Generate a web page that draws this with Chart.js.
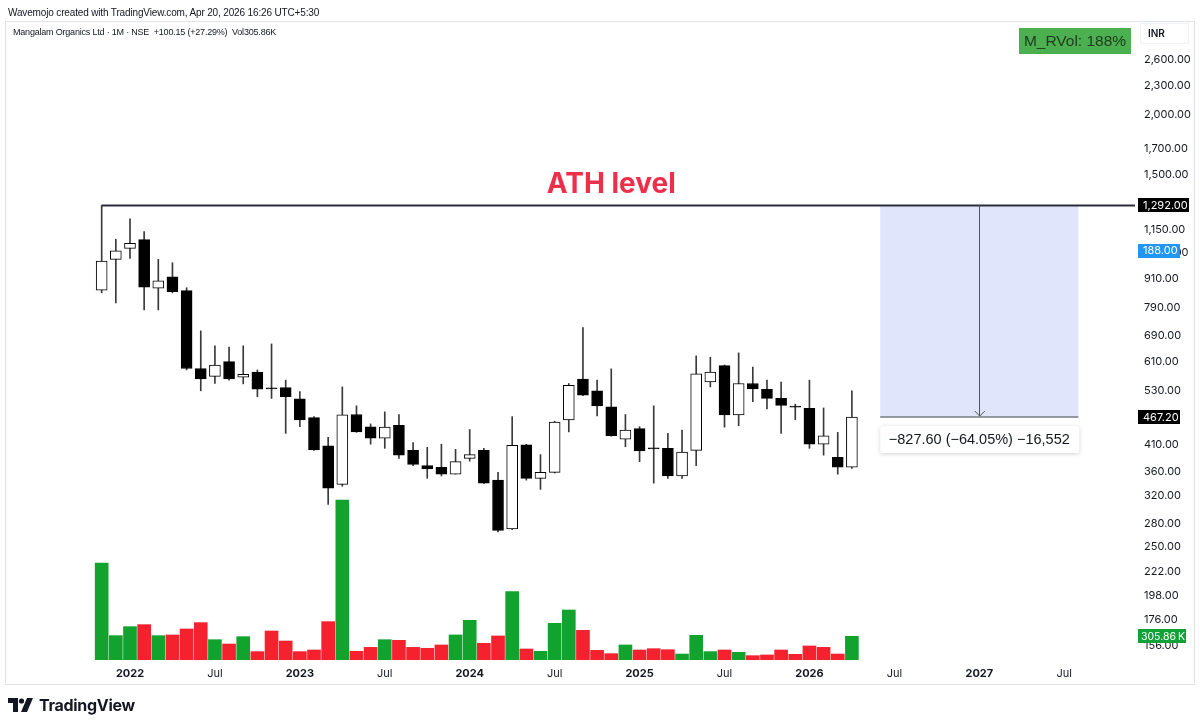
<!DOCTYPE html>
<html>
<head>
<meta charset="utf-8">
<script src="https://cdn.jsdelivr.net/npm/chart.js@4.4.1/dist/chart.umd.min.js"></script>
<style>
  html, body { margin: 0; padding: 0; background: #fff; }
  #wrap { position: relative; width: 1200px; height: 728px; overflow: hidden;
          font-family: "Liberation Sans", Arial, sans-serif; color: #131722; }
  #hdr { position: absolute; left: 8px; top: 7px; font-size: 10px; letter-spacing: -0.15px; }
  #ttl { position: absolute; left: 13px; top: 27px; font-size: 9px; letter-spacing: -0.2px; }
  #logo { position: absolute; left: 8px; top: 695px; display: flex; align-items: center;
          font-family: Inter, sans-serif; font-weight: 700; font-size: 16px; letter-spacing: -0.3px; }
  #logo svg { margin-right: 5px; }
  canvas { position: absolute; left: 0; top: 0; }
</style>
</head>
<body>
<div id="wrap">
  <canvas id="myChart" width="1200" height="728"></canvas>
  <div id="hdr">Wavemojo created with TradingView.com, Apr 20, 2026 16:26 UTC+5:30</div>
  <div id="ttl">Mangalam Organics Ltd · 1M · NSE&nbsp;&nbsp;+100.15 (+27.29%)&nbsp;&nbsp;Vol305.86K</div>
  <div id="logo">
    <svg width="26" height="16" viewBox="0 0 26 16">
      <path d="M0 1h10v14H5V6H0z" fill="#131722"/>
      <circle cx="13.5" cy="4" r="2.6" fill="#131722"/>
      <path d="M19 1h6l-6 14h-6z" fill="#131722"/>
    </svg>
    TradingView
  </div>
</div>
<script>
// monthly candles, Mangalam Organics (NSE)
var months = ['2021-11', '2021-12',
  '2022-01', '2022-02', '2022-03', '2022-04', '2022-05', '2022-06', '2022-07', '2022-08', '2022-09', '2022-10', '2022-11', '2022-12',
  '2023-01', '2023-02', '2023-03', '2023-04', '2023-05', '2023-06', '2023-07', '2023-08', '2023-09', '2023-10', '2023-11', '2023-12',
  '2024-01', '2024-02', '2024-03', '2024-04', '2024-05', '2024-06', '2024-07', '2024-08', '2024-09', '2024-10', '2024-11', '2024-12',
  '2025-01', '2025-02', '2025-03', '2025-04', '2025-05', '2025-06', '2025-07', '2025-08', '2025-09', '2025-10', '2025-11', '2025-12',
  '2026-01', '2026-02', '2026-03', '2026-04'];

var opens = [860, 997, 1051, 1096, 868, 917, 858, 590, 568, 610, 566, 580, 536, 538,
  510, 466, 407, 338, 473, 446, 422, 449, 398, 370, 367, 355,
  383, 398, 345, 273, 409, 348, 358, 461, 561, 530, 491, 420,
  442, 403, 402, 352, 398, 553, 598, 472, 549, 534, 511, 492,
  487, 410, 385, 367.05];
var highs = [1292, 1098, 1211, 1139, 997, 981, 870, 707, 658, 654, 658, 586, 664, 558,
  528, 468, 424, 540, 493, 452, 479, 473, 413, 404, 410, 400,
  440, 402, 358, 468, 410, 390, 458, 549, 718, 558, 589, 473,
  446, 493, 432, 439, 627, 623, 600, 636, 594, 558, 553, 497,
  558, 488, 434, 530];
var lows = [849, 809, 1002, 782, 782, 849, 586, 530, 549, 558, 548, 515, 511, 432,
  446, 398, 307, 335, 434, 410, 402, 383, 370, 348, 352, 355,
  378, 339, 269, 272, 345, 330, 357, 435, 518, 470, 426, 405,
  377, 340, 348, 348, 370, 540, 445, 448, 503, 486, 432, 461,
  402, 389, 355, 365];
var closes = [989, 1039, 1077, 872, 899, 854, 590, 561, 600, 561, 574, 534, 535, 515,
  461, 399, 332, 472, 435, 422, 445, 389, 372, 364, 355, 377,
  390, 340, 271, 408, 348, 358, 456, 544, 519, 493, 427, 439,
  397, 401, 352, 395, 575, 580, 472, 549, 535, 511, 494, 490,
  410, 427, 367.05, 467.2];
// volume in thousands, and whether TradingView painted the bar green
var volumes = [1251, 314, 430, 456, 314, 323, 400, 482, 262, 206, 301, 108, 374, 245,
  108, 129, 495, 2064, 112, 163, 262, 254, 163, 151, 194, 323,
  512, 215, 310, 882, 142, 112, 473, 645, 383, 125, 82, 194,
  129, 146, 133, 77, 318, 108, 129, 99, 56, 65, 129, 73,
  181, 163, 77, 305.86];
var volUp = [1, 1, 1, 0, 1, 0, 0, 0, 1, 0, 1, 0, 0, 0,
  0, 0, 0, 1, 0, 0, 1, 0, 0, 0, 0, 1,
  1, 0, 0, 1, 0, 1, 1, 1, 0, 0, 0, 1,
  0, 0, 0, 1, 1, 1, 0, 1, 0, 0, 0, 0,
  0, 0, 0, 1];

var priceTicks = [2600, 2300, 2000, 1700, 1500, 1150, 1030, 910, 790, 690, 610, 530, 470,
  410, 360, 320, 280, 250, 222, 198, 176, 156];
var timeTicks = [0, 6, 12, 18, 24, 30, 36, 42, 48, 54, 60, 66]; // months since Jan 2022

var athLevel = 1292;
var lastClose = 467.2;
var measureText = '\u2212827.60 (\u221264.05%) \u221216,552';
var rvolValue = '188.00';
var rvolText = 'M_RVol: 188%';

var FONT = 'Inter, "Liberation Sans", sans-serif';
var FONT2 = '"Liberation Sans", Arial, sans-serif';

var monthIndex = function(s) {
  var p = s.split('-');
  return (parseInt(p[0]) - 2022) * 12 + parseInt(p[1]) - 1;
};
var xs = months.map(monthIndex);

var fmtPrice = function(v) {
  return v.toLocaleString('en-US', { minimumFractionDigits: 2, maximumFractionDigits: 2 });
};

var labelBox = function(ctx, text, yMid, bg, right) {
  ctx.font = '11px ' + FONT;
  ctx.fillStyle = bg;
  ctx.fillRect(1138, Math.round(yMid) - 7, right - 1138, 14);
  ctx.fillStyle = '#fff';
  ctx.textAlign = 'left';
  ctx.textBaseline = 'middle';
  ctx.fillText(text, 1143, yMid + 0.5);
};

var overlay = {
  id: 'overlay',
  beforeDatasetsDraw: function(chart) {
    var ctx = chart.ctx, x = chart.scales.x, y = chart.scales.y;
    var x0 = x.getPixelForValue(53), x1 = x.getPixelForValue(67);
    var yTop = y.getPixelForValue(athLevel), yBot = y.getPixelForValue(lastClose);
    ctx.save();
    ctx.fillStyle = '#e0e5fb';
    ctx.fillRect(x0, yTop, x1 - x0, yBot - yTop);
    ctx.restore();
  },
  afterDraw: function(chart) {
    var ctx = chart.ctx, x = chart.scales.x, y = chart.scales.y, yv = chart.scales.yVol;
    var x0 = x.getPixelForValue(53), x1 = x.getPixelForValue(67);
    var xa = x.getPixelForValue(60);
    var yTop = y.getPixelForValue(athLevel), yBot = y.getPixelForValue(lastClose);
    ctx.save();

    // pane frame
    ctx.strokeStyle = '#e0e3eb';
    ctx.lineWidth = 1;
    ctx.strokeRect(5.5, 21.5, 1189, 663);

    // ATH text
    ctx.fillStyle = '#ee2f4a';
    ctx.font = 'bold 28px ' + FONT;
    ctx.textAlign = 'center';
    ctx.textBaseline = 'middle';
    ctx.fillText('ATH level', x.getPixelForValue(34), yTop - 21);

    // measure: bottom edge, arrow
    ctx.strokeStyle = '#787b86';
    ctx.lineWidth = 1.5;
    ctx.beginPath();
    ctx.moveTo(x0, yBot);
    ctx.lineTo(x1, yBot);
    ctx.stroke();
    ctx.strokeStyle = '#50535e';
    ctx.lineWidth = 1;
    ctx.beginPath();
    ctx.moveTo(Math.round(xa) + 0.5, yTop);
    ctx.lineTo(Math.round(xa) + 0.5, yBot - 1);
    ctx.moveTo(xa - 4.5, yBot - 6);
    ctx.lineTo(xa + 0.5, yBot - 1);
    ctx.lineTo(xa + 5.5, yBot - 6);
    ctx.stroke();

    // measure label
    var by = yBot + 9;
    ctx.shadowColor = 'rgba(0,0,0,0.18)';
    ctx.shadowBlur = 4;
    ctx.shadowOffsetY = 1;
    ctx.fillStyle = '#fff';
    ctx.beginPath();
    ctx.roundRect(x0, by, x1 - x0 + 1, 27, 3);
    ctx.fill();
    ctx.shadowColor = 'transparent';
    ctx.fillStyle = '#131722';
    ctx.font = '14.5px ' + FONT2;
    ctx.textAlign = 'center';
    ctx.fillText(measureText, (x0 + x1) / 2, by + 14);

    // M_RVol badge
    ctx.fillStyle = '#4caf50';
    ctx.fillRect(1019, 28, 112, 26);
    ctx.fillStyle = '#1e3b20';
    ctx.font = '15.5px ' + FONT2;
    ctx.fillText(rvolText, 1075, 41.5);

    // currency box
    ctx.fillStyle = '#fff';
    ctx.fillRect(1140, 23, 48, 20);
    ctx.strokeStyle = '#f0f1f4';
    ctx.strokeRect(1140.5, 23.5, 48, 20);
    ctx.fillStyle = '#131722';
    ctx.font = '600 10px ' + FONT;
    ctx.textAlign = 'left';
    ctx.fillText('INR', 1148, 33.5);

    // price scale labels
    labelBox(ctx, fmtPrice(athLevel), yTop, '#000', 1189);
    labelBox(ctx, rvolValue, y.getPixelForValue(1040), '#2196f3', 1180);
    labelBox(ctx, fmtPrice(lastClose), yBot, '#000', 1180);
    ctx.font = '10.5px ' + FONT;
    var vy = yv.getPixelForValue(volumes[volumes.length - 1]);
    ctx.fillStyle = '#12a338';
    ctx.fillRect(1138, Math.round(vy) - 7, 48, 14);
    ctx.fillStyle = '#fff';
    ctx.fillText('305.86\u2009K', 1141, vy + 0.5);
    ctx.restore();
  }
};

var ctx = document.getElementById('myChart');

var myChart = new Chart(ctx, {
  type: 'bar',
  data: {
    datasets: [
      {
        // ATH horizontal line
        type: 'line',
        data: [{ x: xs[0], y: athLevel }, { x: 71, y: athLevel }],
        borderColor: '#2a2e39',
        borderWidth: 2,
        pointRadius: 0,
        yAxisID: 'y',
        order: -1
      },
      {
        // candle bodies
        data: xs.map(function(m, i) { return { x: m, y: [opens[i], closes[i]] }; }),
        backgroundColor: function(c) {
          var i = c.dataIndex;
          return closes[i] > opens[i] ? '#ffffff' : '#000000';
        },
        borderColor: '#000000',
        borderWidth: 1,
        borderSkipped: false,
        barThickness: 11,
        minBarLength: 1,
        grouped: false,
        yAxisID: 'y',
        order: 0
      },
      {
        // wicks
        data: xs.map(function(m, i) { return { x: m, y: [lows[i], highs[i]] }; }),
        backgroundColor: '#3a3a3a',
        barThickness: 1,
        grouped: false,
        yAxisID: 'y',
        order: 1
      },
      {
        // volume
        data: xs.map(function(m, i) { return { x: m, y: volumes[i] }; }),
        backgroundColor: function(c) {
          return volUp[c.dataIndex] ? '#12a32f' : '#f5212f';
        },
        barThickness: 13,
        grouped: false,
        yAxisID: 'yVol',
        order: 2
      }
    ]
  },
  options: {
    responsive: false,
    animation: false,
    layout: { padding: { top: 22, left: 5, right: 5, bottom: 43 } },
    plugins: { legend: { display: false }, tooltip: { enabled: false } },
    scales: {
      x: {
        type: 'linear',
        min: -8.83,
        max: 71,
        offset: false,
        grid: { display: false, drawTicks: false },
        border: { display: false },
        afterFit: function(scale) { scale.height = 25; },
        afterBuildTicks: function(scale) {
          scale.ticks = timeTicks.map(function(v) { return { value: v }; });
        },
        ticks: {
          autoSkip: false,
          maxRotation: 0,
          padding: 7,
          color: '#131722',
          font: function(c) {
            var yr = c.tick && c.tick.value % 12 === 0;
            return { family: FONT, size: 11, weight: yr ? 'bold' : 'normal' };
          },
          callback: function(v) {
            return v % 12 === 0 ? String(2022 + v / 12) : 'Jul';
          }
        }
      },
      y: {
        type: 'logarithmic',
        position: 'right',
        min: 145.3,
        max: 3121,
        grid: { display: false, drawTicks: false },
        border: { display: false },
        afterFit: function(scale) { scale.width = 60; },
        afterBuildTicks: function(scale) {
          scale.ticks = priceTicks.map(function(v) { return { value: v }; });
        },
        ticks: {
          autoSkip: false,
          padding: 9,
          color: '#131722',
          font: { family: FONT, size: 11 },
          callback: function(v) { return fmtPrice(v); }
        }
      },
      yVol: {
        type: 'linear',
        display: false,
        min: 0,
        max: 8230
      }
    }
  },
  plugins: [overlay]
});
</script>
</body>
</html>
